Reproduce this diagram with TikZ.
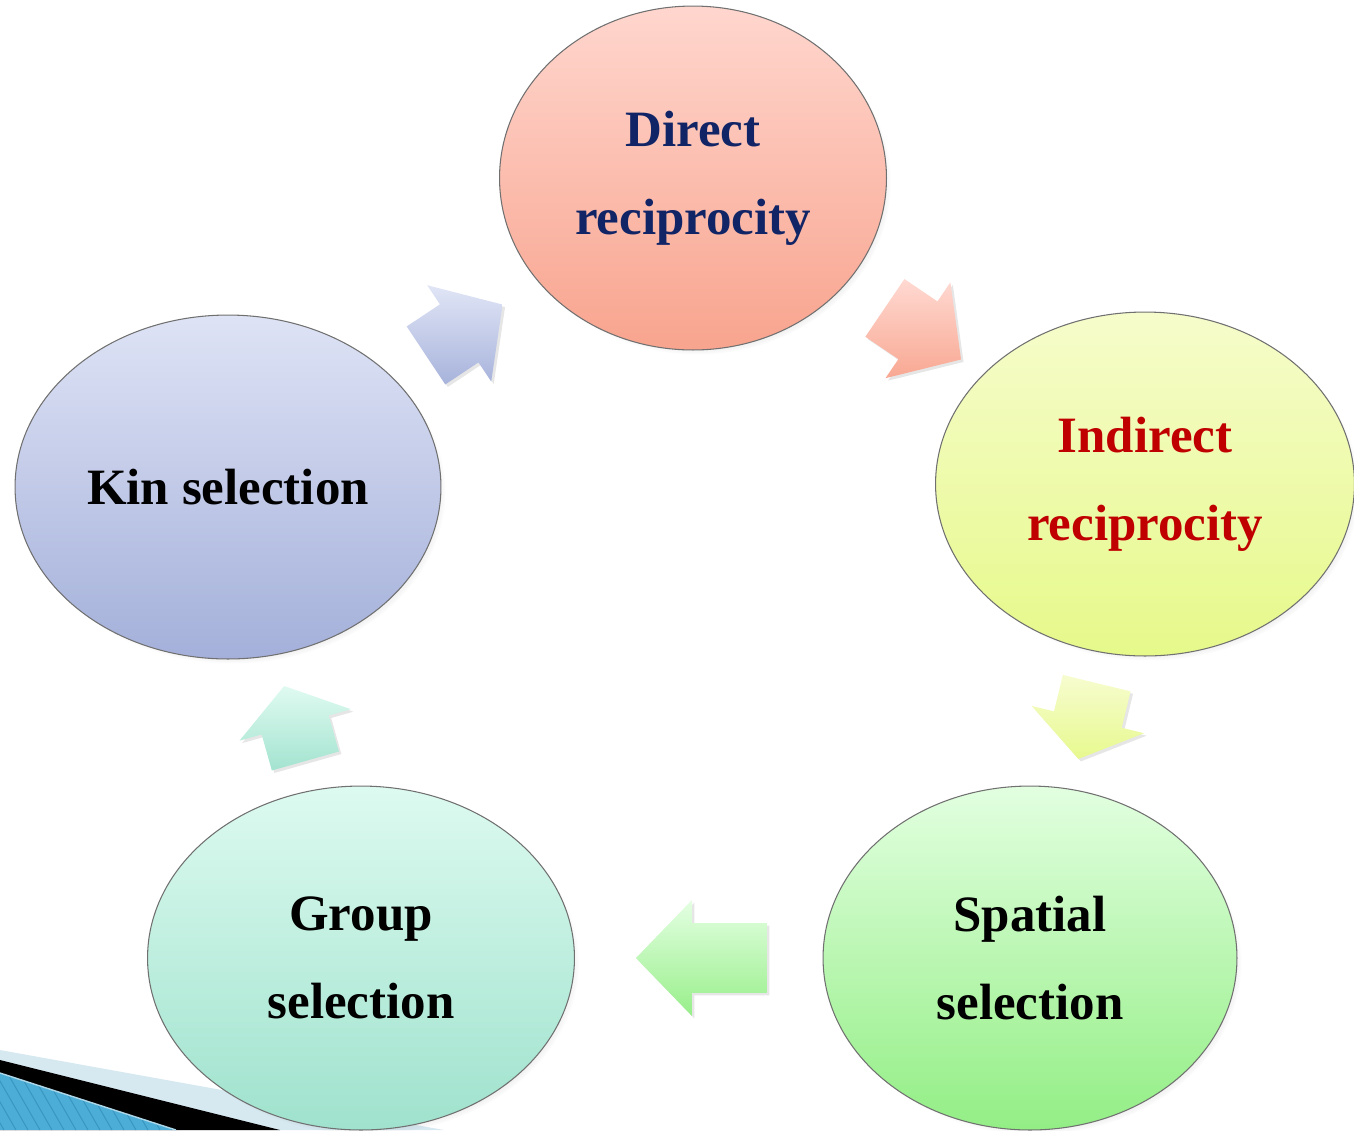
\documentclass[tikz,border=0pt]{standalone}
\usepackage{fontspec}
\setmainfont{Liberation Serif}
\usetikzlibrary{calc, shapes.geometric, shapes.arrows, shadows, fadings}
\definecolor{navy}{RGB}{16,36,102}
\definecolor{darkred}{RGB}{192,0,0}
\definecolor{rimgray}{RGB}{112,112,112}
\definecolor{paleband}{RGB}{214,232,240}
\definecolor{stripeblue}{RGB}{76,174,214}
\definecolor{stripeline}{RGB}{58,150,192}
% circle fills
\definecolor{directtop}{RGB}{255,214,206}
\definecolor{directbot}{RGB}{248,164,142}
\definecolor{indirecttop}{RGB}{246,252,203}
\definecolor{indirectbot}{RGB}{230,249,138}
\definecolor{spatialtop}{RGB}{226,255,224}
\definecolor{spatialbot}{RGB}{147,238,133}
\definecolor{grouptop}{RGB}{221,250,240}
\definecolor{groupbot}{RGB}{159,226,205}
\definecolor{kintop}{RGB}{222,227,245}
\definecolor{kinbot}{RGB}{164,176,218}
\newcommand\cyc[5]{\path (#1.center) -- node[flow={#3}{#4}, #5] (#1#2) {} (#2.center);}

\begin{document}
\begin{tikzpicture}[x=0.02cm, y=-0.02cm,
  bubble/.style 2 args={ellipse, draw=rimgray, line width=0.6pt, inner sep=0pt,
    minimum height=6.88cm, top color=#1, bottom color=#2, align=center,
    font=\fontsize{29}{50}\selectfont\bfseries,
    circular drop shadow={shadow xshift=0.09cm, shadow yshift=-0.09cm, shadow scale=1.0, opacity=0.45}},
  flow/.style 2 args={single arrow, draw=none, inner xsep=0pt, inner ysep=0.69cm,
    single arrow head extend=0.46cm, sloped, allow upside down, midway,
    top color=#1!92!white, bottom color=#2!96!white,
    drop shadow={shadow xshift=0.05cm, shadow yshift=-0.05cm, opacity=0.2}}]
\useasboundingbox (0,0) rectangle (1354,1130);

% corner band
\fill[paleband] (0,1050) -- (444,1130) -- (0,1130) -- cycle;
\fill[black] (0,1060) -- (280,1130) -- (0,1130) -- cycle;
\begin{scope}
\clip (0,1073) -- (176,1130) -- (0,1130) -- cycle;
\fill[stripeblue] (0,1060) rectangle (180,1130);
\foreach \s in {-60,-48,...,180}
  \draw[stripeline, line width=0.6pt] (\s,1060) -- (\s+40,1130);
\end{scope}
\draw[paleband!70!stripeblue, line width=0.8pt] (0,1073) -- (176,1130);

% circles
\node[bubble={directtop}{directbot}, minimum width=7.74cm, text=navy]
  (direct) at (693,178) {Direct\\reciprocity};
\node[bubble={indirecttop}{indirectbot}, minimum width=8.38cm, text=darkred]
  (indirect) at (1145,484) {Indirect\\reciprocity};
\node[bubble={spatialtop}{spatialbot}, minimum width=8.28cm]
  (spatial) at (1030,958) {Spatial\\selection};
\node[bubble={grouptop}{groupbot}, minimum width=8.54cm]
  (group) at (361,958) {Group\\selection};
\node[bubble={kintop}{kinbot}, minimum width=8.52cm]
  (kin) at (228,487) {Kin selection};

% arrows
\cyc{kin}{direct}{kintop}{kinbot}{pos=0.48, minimum height=1.84cm, single arrow tip angle=96}
\cyc{direct}{indirect}{directtop}{directbot}{pos=0.48, minimum height=1.84cm, single arrow tip angle=96}
\cyc{indirect}{spatial}{indirecttop}{indirectbot}{pos=0.475, minimum height=1.56cm, single arrow tip angle=110}
\cyc{spatial}{group}{spatialtop}{spatialbot}{pos=0.466, minimum height=2.62cm, single arrow tip angle=92}
\cyc{group}{kin}{grouptop}{groupbot}{pos=0.473, minimum height=1.56cm, single arrow tip angle=110}
\end{tikzpicture}
\end{document}
